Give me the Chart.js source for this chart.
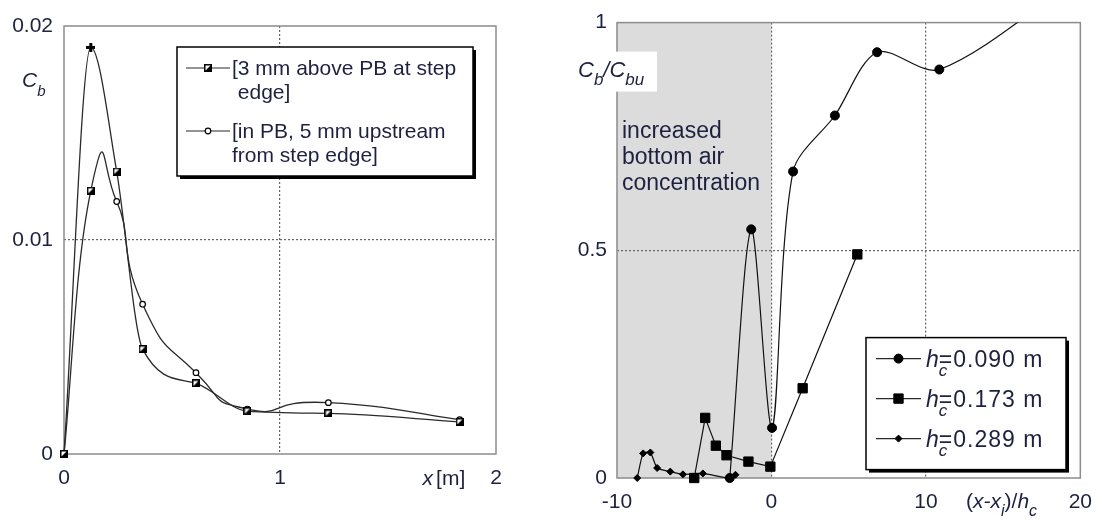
<!DOCTYPE html>
<html>
<head>
<meta charset="utf-8">
<script src="https://cdn.jsdelivr.net/npm/chart.js@4.4.1/dist/chart.umd.min.js"></script>
<style>
  html, body { margin: 0; padding: 0; background: #fff; }
  #wrap { position: relative; width: 1104px; height: 526px; overflow: hidden; }
  canvas { position: absolute; top: 0; }
  #left-chart { left: 0; }
  #right-chart { left: 552px; }
</style>
</head>
<body>
<div id="wrap">
  <canvas id="left-chart" width="552" height="526"></canvas>
  <canvas id="right-chart" width="552" height="526"></canvas>
</div>
<script>
// Left panel: bottom air concentration Cb along x [m]
const leftX = [0, 0.124, 0.244, 0.364, 0.611, 0.849, 1.224, 1.832];
const stepEdgeCb = [0, 0.0190, 0.0132, 0.0049, 0.0033, 0.0020, 0.0019, 0.0015];
const upstreamCb = [0, 0.0123, 0.0118, 0.0070, 0.0038, 0.0021, 0.0024, 0.0016];
const leftXTicks = [0, 1, 2];
const leftYTicks = [0, 0.01, 0.02];
const leftLegend = [
    ['[3 mm above PB at step', ' edge]'],
    ['[in PB, 5 mm upstream', 'from step edge]']
];

// Right panel: Cb/Cbu against (x - xi)/hc
const hc090X = [-2.7, -1.31, 0.04, 1.4, 4.11, 6.84, 10.87, 20];
const hc090Y = [0.0, 0.546, 0.110, 0.673, 0.796, 0.935, 0.897, 1.1];
const hc173X = [-5.0, -4.29, -3.6, -2.91, -1.49, -0.07, 2.02, 5.56];
const hc173Y = [0.0, 0.132, 0.071, 0.050, 0.036, 0.025, 0.197, 0.491];
const hc289X = [-8.69, -8.31, -7.84, -7.4, -6.55, -5.73, -4.44, -2.78, -2.33];
const hc289Y = [0.0, 0.054, 0.056, 0.022, 0.014, 0.008, 0.010, 0.0, 0.007];
const rightXTicks = [-10, 0, 10, 20];
const rightYTicks = [0, 0.5, 1];
const shadedRange = [-10, 0];
const rightLegend = ['=0.090 m', '=0.173 m', '=0.289 m'];
const shadedNote = ['increased', 'bottom air', 'concentration'];

const FONT = '"Liberation Sans", Arial, Helvetica, sans-serif';
const TEXT_COLOR = '#1d2140';
const LINE_COLOR = '#2a2a2a';

function toPoints(xs, ys) {
    return xs.map((x, i) => ({ x: x, y: ys[i] }));
}

// half filled square used by the step edge series
function halfSquareMarker(size) {
    const c = document.createElement('canvas');
    c.width = size;
    c.height = size;
    const g = c.getContext('2d');
    g.fillStyle = '#fff';
    g.fillRect(0, 0, size, size);
    g.fillStyle = '#000';
    g.beginPath();
    g.moveTo(size, 0);
    g.lineTo(size, size);
    g.lineTo(0, size);
    g.closePath();
    g.fill();
    g.strokeStyle = '#000';
    g.lineWidth = 1.5;
    g.strokeRect(0.75, 0.75, size - 1.5, size - 1.5);
    return c;
}

// small black plus, the peak marker
function plusMarker(size) {
    const c = document.createElement('canvas');
    c.width = size;
    c.height = size;
    const g = c.getContext('2d');
    g.fillStyle = '#000';
    const t = 3;
    g.fillRect((size - t) / 2, 0, t, size);
    g.fillRect(0, (size - t) / 2, size, t);
    return c;
}

const halfSquare = halfSquareMarker(8);
const plus = plusMarker(9);

// marker for legend samples (same shapes chart.js uses)
function drawMarker(ctx, ds, x, y) {
    const style = Array.isArray(ds.pointStyle) ? ds.pointStyle[0] : ds.pointStyle;
    if (style instanceof HTMLCanvasElement) {
        ctx.drawImage(style, x - style.width / 2, y - style.height / 2);
        return;
    }
    const r = ds.pointRadius;
    ctx.beginPath();
    if (style === 'rect') {
        const s = Math.SQRT1_2 * r;
        ctx.rect(x - s, y - s, 2 * s, 2 * s);
    } else if (style === 'rectRot') {
        ctx.moveTo(x - r, y);
        ctx.lineTo(x, y - r);
        ctx.lineTo(x + r, y);
        ctx.lineTo(x, y + r);
        ctx.closePath();
    } else {
        ctx.arc(x, y, r, 0, Math.PI * 2);
    }
    ctx.fillStyle = ds.pointBackgroundColor;
    ctx.fill();
    ctx.lineWidth = ds.pointBorderWidth;
    ctx.strokeStyle = ds.pointBorderColor;
    ctx.stroke();
}

// text with italic letters and subscripts
function drawRich(ctx, parts, x, y, size, subSize, subDrop) {
    ctx.textAlign = 'left';
    ctx.textBaseline = 'alphabetic';
    parts.forEach(p => {
        const s = p.sub ? subSize : size;
        ctx.font = (p.italic ? 'italic ' : '') + s + 'px ' + FONT;
        ctx.fillText(p.text, x, y + (p.sub ? subDrop : 0));
        if (!p.back) x += ctx.measureText(p.text).width + (p.gap || 0);
    });
}

function drawLegendBox(ctx, x, y, w, h) {
    ctx.fillStyle = '#000';
    ctx.fillRect(x + 3, y + 3, w, h);
    ctx.fillStyle = '#fff';
    ctx.fillRect(x, y, w, h);
    ctx.strokeStyle = '#000';
    ctx.lineWidth = 1.5;
    ctx.strokeRect(x, y, w, h);
}

function legendSample(ctx, ds, x1, x2, y) {
    ctx.strokeStyle = LINE_COLOR;
    ctx.lineWidth = 1.2;
    ctx.beginPath();
    ctx.moveTo(x1, y);
    ctx.lineTo(x2, y);
    ctx.stroke();
    drawMarker(ctx, ds, (x1 + x2) / 2, y);
}

// grey plot frame
const framePlugin = {
    id: 'frame',
    beforeDatasetsDraw(chart) {
        const { ctx, chartArea: a } = chart;
        ctx.save();
        ctx.strokeStyle = '#8c8c8c';
        ctx.lineWidth = 1.5;
        ctx.strokeRect(a.left, a.top, a.right - a.left, a.bottom - a.top);
        ctx.restore();
    }
};

// spreadsheet style smoothing: control arms taken from the neighbour chord,
// not weighted by segment length like chart.js does
const chordSmoothing = {
    id: 'chordSmoothing',
    beforeDatasetDraw(chart, args) {
        const ds = chart.data.datasets[args.index];
        if (!ds.chordTension) return;
        const meta = args.meta;
        const line = meta.dataset;
        line.updateControlPoints(chart.chartArea, meta.iScale.axis);
        const pts = line.points;
        const k = ds.chordTension;
        pts.forEach((p, i) => {
            const prev = pts[Math.max(i - 1, 0)];
            const next = pts[Math.min(i + 1, pts.length - 1)];
            const dx = next.x - prev.x;
            const dy = next.y - prev.y;
            p.cp1x = p.x - k * dx;
            p.cp1y = p.y - k * dy;
            p.cp2x = p.x + k * dx;
            p.cp2y = p.y + k * dy;
        });
        line._path = undefined;
    }
};

function linearAxis(ticks, pad, fitSize, horizontal) {
    const lo = ticks[0];
    const hi = ticks[ticks.length - 1];
    return {
        type: 'linear',
        min: lo,
        max: hi,
        afterBuildTicks: axis => { axis.ticks = ticks.map(v => ({ value: v })); },
        afterFit: axis => {
            if (horizontal) axis.height = fitSize; else axis.width = fitSize;
        },
        grid: {
            drawTicks: false,
            lineWidth: 1.2,
            color: c => (c.tick && c.tick.value > lo && c.tick.value < hi) ? '#666' : 'rgba(0,0,0,0)'
        },
        border: { display: false, dash: [2, 2] },
        ticks: {
            padding: pad,
            color: TEXT_COLOR,
            autoSkip: false,
            maxRotation: 0,
            font: { family: FONT, size: 21 },
            callback: v => String(v)
        }
    };
}

// ---------- left chart ----------
const leftDecor = {
    id: 'leftDecor',
    afterDraw(chart) {
        const { ctx, chartArea: a } = chart;
        const xs = chart.scales.x;
        ctx.save();
        ctx.fillStyle = TEXT_COLOR;
        drawRich(ctx, [{ text: 'C', italic: true }, { text: 'b', italic: true, sub: true }], a.left - 42, a.top + 61, 21, 15, 9);
        drawRich(ctx, [{ text: 'x', italic: true, gap: 3 }, { text: '[m]' }], xs.getPixelForValue(1.66), a.bottom + 31, 21, 15, 0);

        // legend
        const bx = a.left + 113, by = a.top + 21, bw = 296, bh = 129;
        drawLegendBox(ctx, bx, by, bw, bh);
        const rows = [by + 21, by + 84];
        chart.data.datasets.forEach((ds, i) => {
            legendSample(ctx, ds, bx + 9, bx + 53, rows[i]);
            ctx.fillStyle = TEXT_COLOR;
            ctx.font = '21px ' + FONT;
            ctx.textAlign = 'left';
            ctx.textBaseline = 'middle';
            leftLegend[i].forEach((line, k) => ctx.fillText(line, bx + 55, rows[i] + 1 + k * 24));
        });
        ctx.restore();
    }
};

new Chart(document.getElementById('left-chart'), {
    type: 'scatter',
    data: {
        datasets: [{
            label: leftLegend[0].join(''),
            data: toPoints(leftX, stepEdgeCb),
            showLine: true,
            borderColor: LINE_COLOR,
            borderWidth: 1.3,
            tension: 0.4,
            cubicInterpolationMode: 'monotone',
            clip: false,
            pointStyle: [halfSquare, plus, halfSquare, halfSquare, halfSquare, halfSquare, halfSquare, halfSquare],
            pointRadius: 4
        }, {
            label: leftLegend[1].join(''),
            data: toPoints(leftX, upstreamCb),
            showLine: true,
            borderColor: LINE_COLOR,
            borderWidth: 1.3,
            tension: 0.4,
            chordTension: 0.3,
            clip: false,
            pointStyle: ['circle', halfSquare, 'circle', 'circle', 'circle', 'circle', 'circle', 'circle'],
            pointRadius: 2.8,
            pointBackgroundColor: '#fff',
            pointBorderColor: '#000',
            pointBorderWidth: 1.2
        }]
    },
    options: {
        responsive: false,
        animation: false,
        events: [],
        layout: { padding: { left: 0, top: 26, right: 56, bottom: 0 } },
        plugins: { legend: { display: false }, tooltip: { enabled: false } },
        scales: {
            x: linearAxis(leftXTicks, 12, 72, true),
            y: linearAxis(leftYTicks, 11, 64, false)
        }
    },
    plugins: [framePlugin, chordSmoothing, leftDecor]
});

// ---------- right chart ----------
const shadePlugin = {
    id: 'shade',
    beforeDraw(chart) {
        const { ctx, chartArea: a } = chart;
        const xs = chart.scales.x;
        const x1 = xs.getPixelForValue(shadedRange[0]);
        const x2 = xs.getPixelForValue(shadedRange[1]);
        ctx.save();
        ctx.fillStyle = '#dcdcdc';
        ctx.fillRect(x1, a.top, x2 - x1, a.bottom - a.top);
        ctx.fillStyle = TEXT_COLOR;
        ctx.font = '23px ' + FONT;
        ctx.textAlign = 'left';
        ctx.textBaseline = 'alphabetic';
        shadedNote.forEach((line, k) => ctx.fillText(line, x1 + 5, a.top + 115 + k * 26));
        ctx.restore();
    }
};

const rightDecor = {
    id: 'rightDecor',
    afterDraw(chart) {
        const { ctx, chartArea: a } = chart;
        const xs = chart.scales.x;
        ctx.save();
        // y label on white patch
        ctx.fillStyle = '#fff';
        ctx.fillRect(a.left - 45, a.top + 29, 85, 40);
        ctx.fillStyle = TEXT_COLOR;
        drawRich(ctx, [
            { text: 'C', italic: true },
            { text: 'b', italic: true, sub: true },
            { text: '/', italic: true },
            { text: 'C', italic: true },
            { text: 'bu', italic: true, sub: true }
        ], a.left - 39, a.top + 54, 22, 17, 8);

        // x label
        drawRich(ctx, [
            { text: '(' },
            { text: 'x-x', italic: true },
            { text: 'i', italic: true, sub: true },
            { text: ')/' },
            { text: 'h', italic: true },
            { text: 'c', italic: true, sub: true }
        ], xs.getPixelForValue(12.6), a.bottom + 30, 21, 16, 8);

        // legend
        const bx = a.left + 249, by = a.top + 315, bw = 200, bh = 132;
        drawLegendBox(ctx, bx, by, bw, bh);
        chart.data.datasets.forEach((ds, i) => {
            const ry = by + 21 + i * 40;
            legendSample(ctx, ds, bx + 10, bx + 55, ry);
            ctx.fillStyle = TEXT_COLOR;
            ctx.letterSpacing = '1px';
            drawRich(ctx, [
                { text: 'h', italic: true, gap: -1 },
                { text: 'c', italic: true, sub: true, back: true },
                { text: rightLegend[i] }
            ], bx + 60, ry + 8, 23, 17, 9);
            ctx.letterSpacing = '0px';
        });
        ctx.restore();
    }
};

new Chart(document.getElementById('right-chart'), {
    type: 'scatter',
    data: {
        datasets: [{
            label: 'hc=0.090 m',
            data: toPoints(hc090X, hc090Y),
            showLine: true,
            borderColor: '#111',
            borderWidth: 1.2,
            tension: 0.3,
            clip: { left: 8, top: 0, right: 0, bottom: 8 },
            pointStyle: 'circle',
            pointRadius: 4.5,
            pointBackgroundColor: '#000',
            pointBorderColor: '#000',
            pointBorderWidth: 1
        }, {
            label: 'hc=0.173 m',
            data: toPoints(hc173X, hc173Y),
            showLine: true,
            borderColor: '#111',
            borderWidth: 1.2,
            tension: 0,
            clip: false,
            pointStyle: 'rect',
            pointRadius: 6.6,
            pointBackgroundColor: '#000',
            pointBorderColor: '#000',
            pointBorderWidth: 1
        }, {
            label: 'hc=0.289 m',
            data: toPoints(hc289X, hc289Y),
            showLine: true,
            borderColor: '#111',
            borderWidth: 1.2,
            tension: 0.2,
            clip: false,
            pointStyle: 'rectRot',
            pointRadius: 3.5,
            pointBackgroundColor: '#000',
            pointBorderColor: '#000',
            pointBorderWidth: 1
        }]
    },
    options: {
        responsive: false,
        animation: false,
        events: [],
        layout: { padding: { left: 0, top: 16, right: 21, bottom: 0 } },
        plugins: { legend: { display: false }, tooltip: { enabled: false } },
        scales: {
            x: linearAxis(rightXTicks, 12, 48, true),
            y: linearAxis(rightYTicks, 10, 65, false)
        }
    },
    plugins: [shadePlugin, framePlugin, rightDecor]
});
</script>
</body>
</html>
